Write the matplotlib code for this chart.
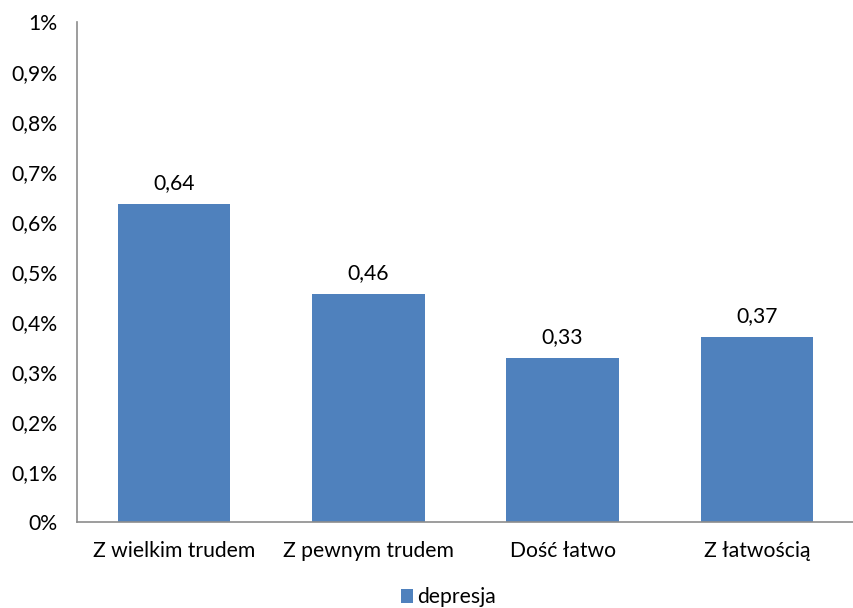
import matplotlib
matplotlib.use("Agg")
import matplotlib.pyplot as plt
from matplotlib.ticker import FuncFormatter

categories = ["Z wielkim trudem", "Z pewnym trudem", "Dość łatwo", "Z łatwością"]
values = [0.636, 0.456, 0.328, 0.37]
value_labels = ["0,64", "0,46", "0,33", "0,37"]
series_name = "depresja"

plt.rcParams['font.family'] = ['Lato', 'DejaVu Sans']
FS = 15.2

fig = plt.figure(figsize=(8.54, 6.08), dpi=100)
ax = fig.add_axes([77/854, 86/608, 1 - 77/854, 500/608])

x = range(len(categories))
bars = ax.bar(x, values, width=0.58, color="#4F81BD", label=series_name, zorder=2)
for xi, v, lab in zip(x, values, value_labels):
    ax.text(xi, v + 0.022, lab, ha="center", va="bottom", fontsize=FS, color="black")

ax.set_xlim(-0.5, 3.5)
ax.set_ylim(0, 1)
ax.set_yticks([i / 10 for i in range(11)])
def fmt(v, pos):
    s = f"{v:.1f}".rstrip("0").rstrip(".")
    return s.replace(".", ",") + "%"
ax.yaxis.set_major_formatter(FuncFormatter(fmt))
ax.set_xticks(list(x))
ax.set_xticklabels(categories)
ax.tick_params(axis="both", length=0, labelsize=FS, colors="black")
ax.tick_params(axis="x", pad=14)
ax.tick_params(axis="y", pad=14)
for s in ["top", "right"]:
    ax.spines[s].set_visible(False)
for s in ["left", "bottom"]:
    ax.spines[s].set_color("#8C8C8C")
    ax.spines[s].set_linewidth(1.2)

fig.legend(handles=[bars], labels=[series_name], loc="lower center", bbox_to_anchor=(0.525, -0.03),
           frameon=False, fontsize=FS, handlelength=0.6, handleheight=0.6, handletextpad=0.2)

fig.savefig("out.png", dpi=100)
